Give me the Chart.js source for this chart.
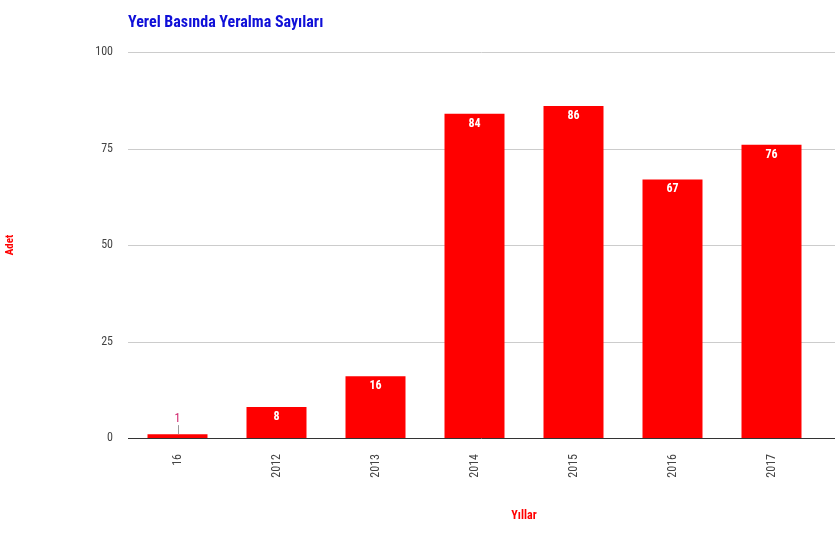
<!DOCTYPE html>
<html>
<head>
<meta charset="utf-8">
<script src="https://cdn.jsdelivr.net/npm/chart.js@4.4.0/dist/chart.umd.min.js"></script>
<style>
  html, body { margin: 0; padding: 0; background: #fff; }
  #wrap { width: 835px; height: 536px; }
</style>
</head>
<body>
<div id="wrap"><canvas id="myChart" width="835" height="536"></canvas></div>
<script>
const categories = ['16', '2012', '2013', '2014', '2015', '2016', '2017'];
const counts = [1, 8, 16, 84, 86, 67, 76];
const yTicks = [0, 25, 50, 75, 100];

const FONT = "'Roboto Condensed', 'Liberation Sans Narrow', Roboto, sans-serif";
const TITLE = 'Yerel Basında Yeralma Sayıları';
const X_TITLE = 'Yıllar';

// gridlines run to the right edge of the canvas, like the original
const gridPlugin = {
    id: 'grid',
    beforeDatasetsDraw(chart) {
        const ctx = chart.ctx;
        const y = chart.scales.y;
        const left = chart.chartArea.left;
        ctx.save();
        yTicks.forEach(v => {
            const py = Math.round(y.getPixelForValue(v)) + 0.5;
            ctx.strokeStyle = v === 0 ? '#333' : '#ccc';
            ctx.lineWidth = 1;
            ctx.beginPath();
            ctx.moveTo(left, py);
            ctx.lineTo(chart.width, py);
            ctx.stroke();
        });
        ctx.restore();
    }
};

// chart title and x axis title, placed where the original has them
const titlesPlugin = {
    id: 'titles',
    afterDraw(chart) {
        const ctx = chart.ctx;
        ctx.save();
        ctx.textBaseline = 'middle';
        ctx.textAlign = 'left';
        ctx.fillStyle = '#1010d8';
        ctx.font = 'bold 16px ' + FONT;
        ctx.fillText(TITLE, chart.chartArea.left, 23);
        ctx.textAlign = 'center';
        ctx.fillStyle = '#ff0000';
        ctx.font = 'bold 12px ' + FONT;
        ctx.fillText(X_TITLE, 524, 516);
        ctx.restore();
    }
};

// value labels on the bars
const labelPlugin = {
    id: 'barLabels',
    afterDatasetsDraw(chart) {
        const ctx = chart.ctx;
        const meta = chart.getDatasetMeta(0);
        ctx.save();
        ctx.textAlign = 'center';
        ctx.textBaseline = 'middle';
        meta.data.forEach((bar, i) => {
            const h = bar.base - bar.y;
            if (h > 20) {
                ctx.fillStyle = '#fff';
                ctx.font = 'bold 12px ' + FONT;
                ctx.fillText(counts[i], bar.x, bar.y + 10);
            } else {
                ctx.strokeStyle = '#999';
                ctx.lineWidth = 1;
                ctx.beginPath();
                ctx.moveTo(Math.round(bar.x) + 0.5, bar.y);
                ctx.lineTo(Math.round(bar.x) + 0.5, bar.y - 9);
                ctx.stroke();
                ctx.fillStyle = '#d0206a';
                ctx.font = '12px ' + FONT;
                ctx.fillText(counts[i], bar.x, bar.y - 15);
            }
        });
        ctx.restore();
    }
};

new Chart(document.getElementById('myChart').getContext('2d'), {
    type: 'bar',
    data: {
        labels: categories,
        datasets: [{
            label: 'Adet',
            data: counts,
            backgroundColor: '#ff0000',
            borderWidth: 0,
            categoryPercentage: 1,
            barPercentage: 0.606
        }]
    },
    options: {
        responsive: false,
        animation: false,
        layout: { padding: { left: 0, right: 14, top: 52, bottom: 0 } },
        plugins: {
            legend: { display: false },
            tooltip: { enabled: false },
            title: { display: false }
        },
        scales: {
            x: {
                grid: { display: false, drawTicks: false },
                border: { display: false },
                ticks: {
                    color: '#444',
                    font: { family: FONT, size: 12 },
                    minRotation: 90,
                    maxRotation: 90,
                    padding: 16
                },
                afterFit(scale) { scale.height = 98; }
            },
            y: {
                min: 0,
                max: 100,
                grid: { display: false, drawTicks: false },
                border: { display: false },
                afterBuildTicks(scale) { scale.ticks = yTicks.map(v => ({ value: v })); },
                ticks: {
                    color: '#444',
                    font: { family: FONT, size: 12 },
                    padding: 15
                },
                title: {
                    display: true,
                    text: 'Adet',
                    color: '#ff0000',
                    font: { family: FONT, size: 11, weight: 'bold' },
                    padding: { top: 4, bottom: 0 }
                },
                afterFit(scale) { scale.width = 128; }
            }
        }
    },
    plugins: [gridPlugin, labelPlugin, titlesPlugin]
});
</script>
</body>
</html>
